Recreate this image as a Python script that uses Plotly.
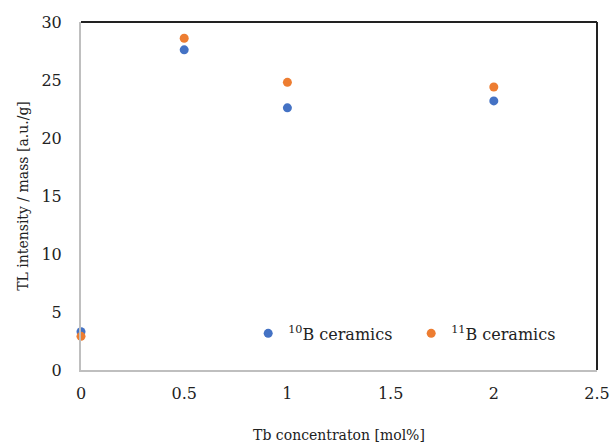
import plotly.graph_objects as go

tb_conc = [0, 0.5, 1, 2]
b10_values = [3.3, 27.6, 22.6, 23.2]
b11_values = [2.9, 28.6, 24.8, 24.4]
series_names = ["<sup>10</sup>B ceramics", "<sup>11</sup>B ceramics"]
series_colors = ["#4472C4", "#ED7D31"]

font_family = "DejaVu Serif"

fig = go.Figure()
for name, vals, col in zip(series_names, [b10_values, b11_values], series_colors):
    fig.add_trace(go.Scatter(x=tb_conc, y=vals, mode="markers", name=name,
                             marker=dict(color=col, size=9), cliponaxis=False))

fig.update_layout(
    template="none",
    width=611, height=445,
    margin=dict(l=81, r=14, t=22, b=75, autoexpand=False),
    paper_bgcolor="white", plot_bgcolor="white",
    font=dict(family=font_family, size=16, color="#222"),
    showlegend=True,
    legend=dict(orientation="h", x=0.324, y=0.105, xanchor="left", yanchor="middle",
                bgcolor="rgba(0,0,0,0)", font=dict(size=16, family=font_family),
                entrywidth=118, entrywidthmode="pixels", itemwidth=30, tracegroupgap=0),
    xaxis=dict(range=[0, 2.5], dtick=0.5, showgrid=False, zeroline=False, automargin=False,
               showline=True, linecolor="#bfbfbf", linewidth=2, ticks="",
               ticklabelstandoff=8, tickfont=dict(family=font_family, size=16),
               title=dict(text="Tb concentraton [mol%]", standoff=28,
                          font=dict(size=14, family=font_family))),
    yaxis=dict(range=[0, 30], dtick=5, showgrid=False, zeroline=False, automargin=False,
               showline=True, linecolor="#bfbfbf", linewidth=2, ticks="",
               ticklabelstandoff=14, tickfont=dict(family=font_family, size=16),
               title=dict(text="TL intensity / mass [a.u./g]", standoff=10,
                          font=dict(size=14, family=font_family))),
    shapes=[
        dict(type="line", xref="paper", yref="paper", x0=0, x1=1, y0=1, y1=1,
             line=dict(color="#222", width=2)),
        dict(type="line", xref="paper", yref="paper", x0=1, x1=1, y0=0, y1=1,
             line=dict(color="#222", width=2)),
    ],
)

fig.write_html("out.html", config={"displayModeBar": False},
               post_script="document.body.style.margin='0';document.body.style.padding='0';")
